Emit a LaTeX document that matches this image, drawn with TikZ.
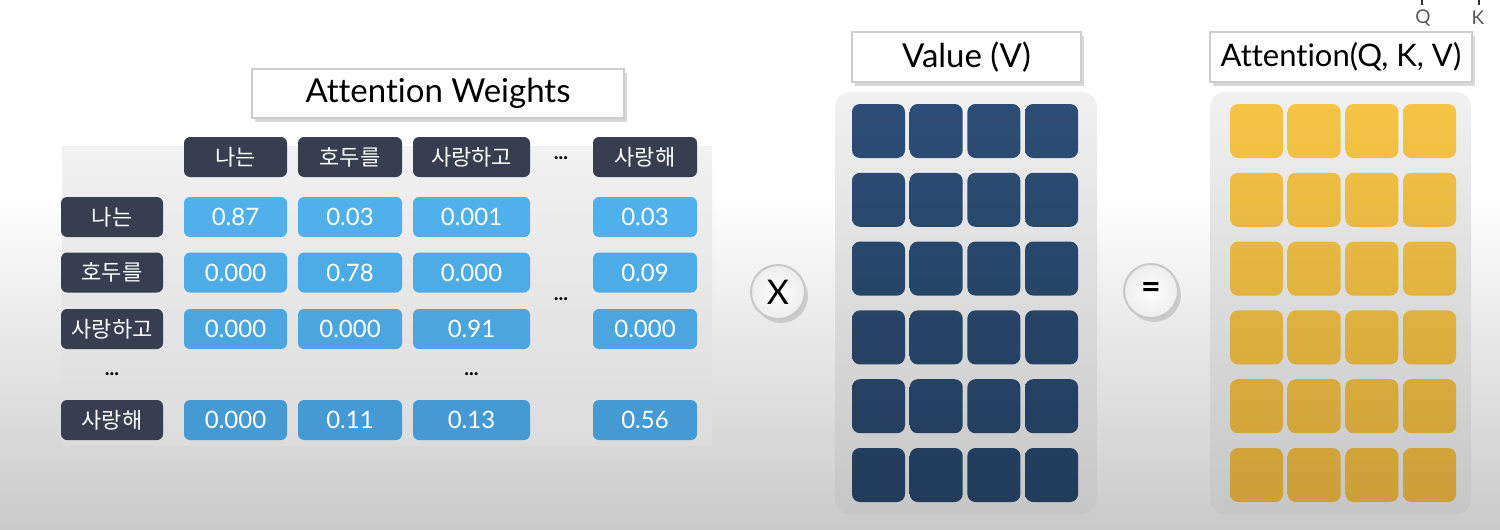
\documentclass[tikz,border=0pt]{standalone}
\usepackage{fontspec}
\setmainfont{Lato}[Ligatures={NoCommon}]
\newfontfamily\kr{Noto Sans CJK KR}
\usetikzlibrary{shadows}
\definecolor{headDark}{RGB}{54,62,79}
\definecolor{blueTop}{RGB}{80,176,236}
\definecolor{blueBot}{RGB}{68,152,208}
\definecolor{navyTop}{RGB}{44,77,117}
\definecolor{navyBot}{RGB}{34,60,92}
\definecolor{goldTop}{RGB}{245,197,69}
\definecolor{goldBot}{RGB}{205,160,58}
\definecolor{bgBot}{RGB}{202,202,202}
\definecolor{panelTop}{RGB}{241,241,241}
\definecolor{panelBot}{RGB}{198,198,198}
\definecolor{tablePanelBot}{RGB}{220,220,220}
\definecolor{boxline}{RGB}{205,205,205}
\definecolor{circline}{RGB}{200,200,200}
\definecolor{qkgray}{RGB}{90,90,90}
\begin{document}
\begin{tikzpicture}[x=0.5pt,y=-0.5pt,
  titlebox/.style={draw=boxline, line width=1pt, fill=white, inner sep=0pt,
    drop shadow={opacity=0.3, shadow xshift=1.5pt, shadow yshift=-2pt},
    font=\fontsize{16.5}{18}\selectfont},
  darkcell/.style={fill=headDark, rounded corners=3pt, text=white, inner sep=0pt,
    minimum height=20pt, font=\kr\fontsize{11}{12}\selectfont},
  numcell/.style={rounded corners=3pt, text=white, inner sep=0pt,
    minimum height=20pt, font=\fontsize{12}{14}\selectfont},
  sqcell/.style={rounded corners=4pt, minimum width=26.5pt, minimum height=27pt, inner sep=0pt},
  opcircle/.style={circle, draw=circline, line width=1pt, inner sep=0pt, minimum size=27pt,
    inner color=white, outer color=white!93!black,
    drop shadow={opacity=0.3, shadow xshift=1.5pt, shadow yshift=-2pt},
    font=\fontsize{17}{18}\selectfont},
  dotsnode/.style={inner sep=0pt, font=\bfseries\fontsize{10}{10}\selectfont},
  qknode/.style={inner sep=0pt, text=qkgray, font=\fontsize{9.5}{10}\selectfont},
  tick/.style={line width=1.2pt, draw=black!80}
]
\useasboundingbox (0,0) rectangle (1500,530);
% background
\fill[white] (0,0) rectangle (1500,530);
\shade[top color=white, bottom color=bgBot] (0,190) rectangle (1500,530);

% table panel
\shade[top color=panelTop, bottom color=tablePanelBot] (62,146) rectangle (712,445);
% value / attention panels
\shade[rounded corners=7.5pt, top color=panelTop, bottom color=panelBot] (835,92) rectangle (1097,514);
\shade[rounded corners=7.5pt, top color=panelTop, bottom color=panelBot] (1210,92) rectangle (1471,514);

% titles
\node[titlebox, minimum width=186pt, minimum height=24.5pt] (aw) at (438,93.5) {Attention Weights};
\node[titlebox, minimum width=114.5pt, minimum height=25pt] (val) at (966.5,57) {Value (V)};
\node[titlebox, minimum width=131pt, minimum height=25pt, font=\fontsize{15.5}{18}\selectfont] (att) at (1341,57) {Attention(Q, K, V)};

% column headers
\node[darkcell, minimum width=51.5pt] (h1) at (235.5,157) {나는};
\node[darkcell, minimum width=52pt] (h2) at (350,157) {호두를};
\node[darkcell, minimum width=58.5pt] (h3) at (471.5,157) {사랑하고};
\node[dotsnode] (hd) at (561,158) {...};
\node[darkcell, minimum width=52pt] (h5) at (645,157) {사랑해};

% row labels
\node[darkcell, minimum width=51pt] (r1) at (112,217) {나는};
\node[darkcell, minimum width=51pt] (r2) at (112,272.5) {호두를};
\node[darkcell, minimum width=51pt] (r3) at (112,329) {사랑하고};
\node[dotsnode] (rd) at (112,374) {...};
\node[darkcell, minimum width=51pt] (r5) at (112,420) {사랑해};

% values
\foreach \row/\y/\p/\a/\b/\c/\d in {1/217/100/0.87/0.03/0.001/0.03,
    2/272.5/78/0.000/0.78/0.000/0.09,
    3/329/55/0.000/0.000/0.91/0.000,
    5/420/10/0.000/0.11/0.13/0.56}{
  \node[numcell, fill=blueTop!\p!blueBot, minimum width=51.5pt] (n\row a) at (235.5,\y) {\a};
  \node[numcell, fill=blueTop!\p!blueBot, minimum width=52pt] (n\row b) at (350,\y) {\b};
  \node[numcell, fill=blueTop!\p!blueBot, minimum width=58.5pt] (n\row c) at (471.5,\y) {\c};
  \node[numcell, fill=blueTop!\p!blueBot, minimum width=52pt] (n\row d) at (645,\y) {\d};
}
\node[dotsnode] (cd) at (561,299) {...};
\node[dotsnode] (md) at (471.5,374) {...};

% operators
\node[opcircle] (times) at (778,292) {X};
\node[opcircle] (equals) at (1151,291) {\textbf{=}};

% matrix cells
\foreach \i in {0,...,5}{
  \pgfmathtruncatemacro{\pa}{100-\i*18}
  \pgfmathtruncatemacro{\pb}{100-\i*18-14}
  \pgfmathsetmacro{\yy}{131+\i*68.8}
  \foreach \j in {0,...,3}{
    \pgfmathsetmacro{\xv}{878.5+\j*57.7}
    \pgfmathsetmacro{\xa}{1256.5+\j*57.7}
    \node[sqcell, top color=navyTop!\pa!navyBot, bottom color=navyTop!\pb!navyBot] (v\i\j) at (\xv,\yy) {};
    \node[sqcell, top color=goldTop!\pa!goldBot, bottom color=goldTop!\pb!goldBot] (a\i\j) at (\xa,\yy) {};
  }
}

% Q / K marks
\node[qknode] (Q) at (1423,18) {Q};
\node[qknode] (K) at (1478,18) {K};
\coordinate (qt) at (1422,0);
\coordinate (kt) at (1479,0);
\draw[tick] (qt) -- (qt |- 0,5);
\draw[tick] (kt) -- (kt |- 0,5);
\end{tikzpicture}
\end{document}
